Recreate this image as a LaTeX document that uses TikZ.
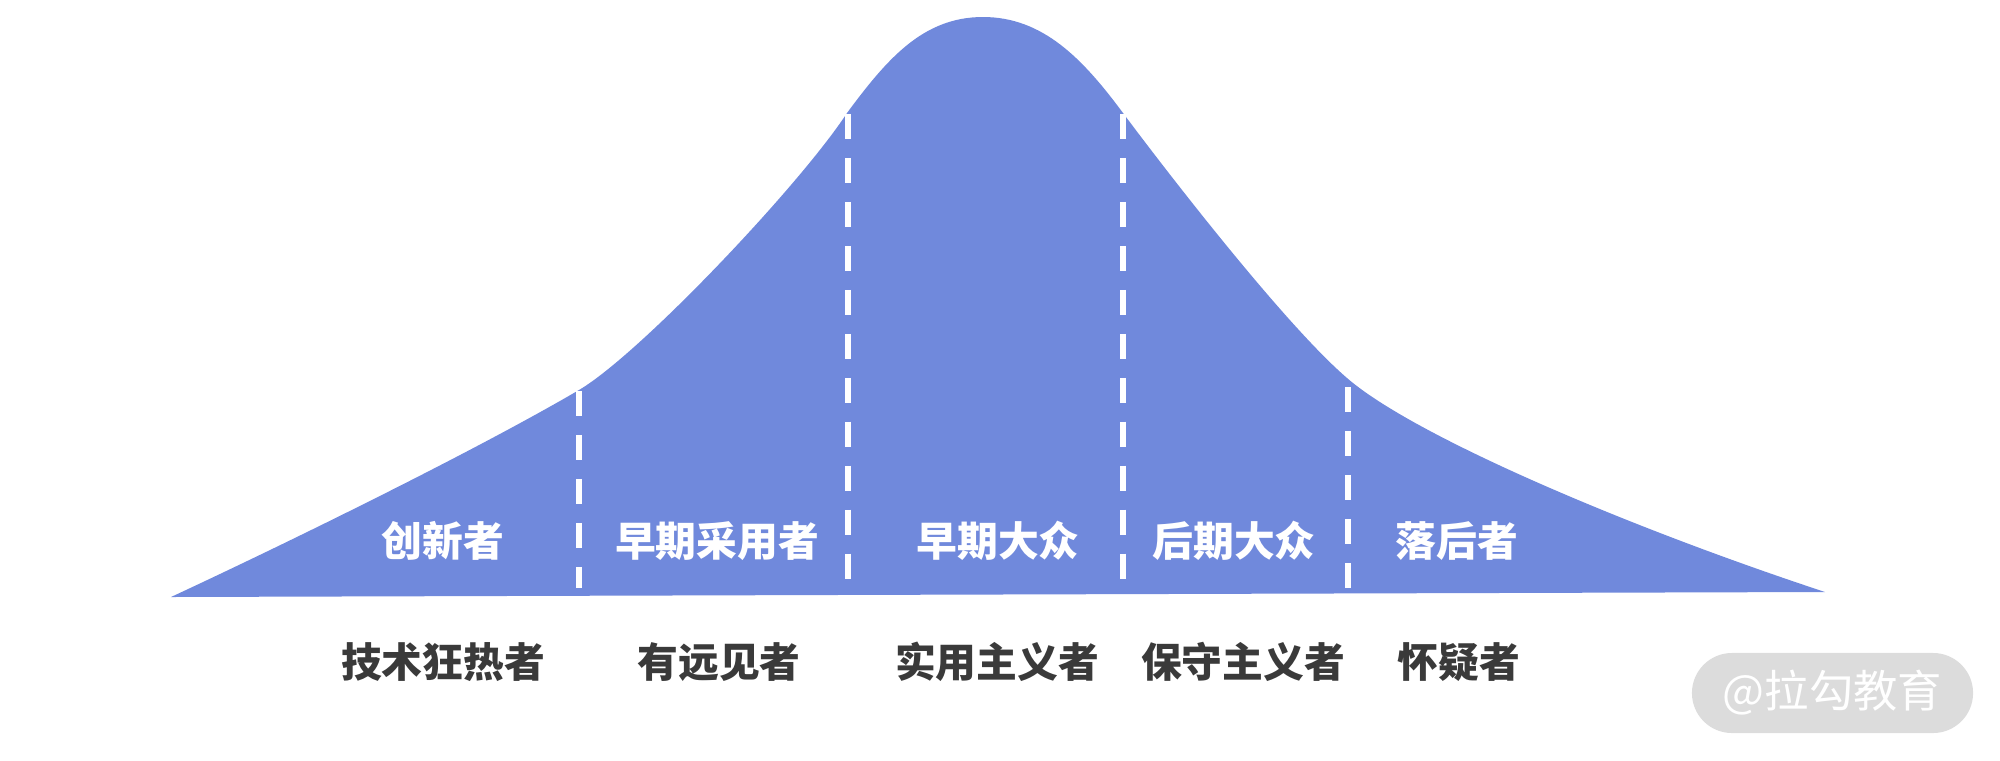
\documentclass[tikz,border=0pt]{standalone}
\usepackage{fontspec}
\newfontfamily\cjk{Noto Sans CJK SC}
\definecolor{bellblue}{RGB}{112,137,220}
\definecolor{darktext}{RGB}{58,58,58}
\definecolor{wmgray}{RGB}{220,220,220}
\tikzset{
  inlabel/.style={text=white, font=\cjk\bfseries\fontsize{11.6pt}{14pt}\selectfont, inner sep=0pt},
  outlabel/.style={text=darktext, font=\cjk\bfseries\fontsize{11.6pt}{14pt}\selectfont, inner sep=0pt},
  divider/.style={draw=white, line width=1.45pt, dash pattern=on 7.1pt off 5.4pt},
  watermark/.style={fill=wmgray, rounded corners=0.4cm, minimum width=2.81cm, minimum height=0.8cm, inner sep=0pt,
    text=white, font=\cjk\fontsize{12.6pt}{15pt}\selectfont},
}
\begin{document}
\begin{tikzpicture}[x=0.01cm, y=-0.01cm]
\useasboundingbox (0,0) rectangle (2000,760);
% bell curve
\fill[bellblue] (171,597)
  .. controls (300,537) and (480,448) .. (579,390)
  .. controls (640,354) and (800,185) .. (847,113)
  .. controls (887,59) and (923,17) .. (983,17)
  .. controls (1043,17) and (1083,59) .. (1123,113)
  .. controls (1170,176) and (1293,335) .. (1353,383)
  .. controls (1423,439) and (1625,526) .. (1825,592)
  -- cycle;
% dividers
\coordinate (d1t) at (579,391); \coordinate (d1b) at (579,588);
\coordinate (d2t) at (848,114); \coordinate (d2b) at (848,590);
\coordinate (d3t) at (1123,114); \coordinate (d3b) at (1123,590);
\coordinate (d4t) at (1348,387); \coordinate (d4b) at (1348,588);
\draw[divider] (d1t) -- (d1b);
\draw[divider] (d2t) -- (d2b);
\draw[divider] (d3t) -- (d3b);
\draw[divider] (d4t) -- (d4b);
% inner labels
\node[inlabel] (i1) at (443,541) {创新者};
\node[inlabel] (i2) at (717,541) {早期采用者};
\node[inlabel] (i3) at (998,541) {早期大众};
\node[inlabel] (i4) at (1234,541) {后期大众};
\node[inlabel] (i5) at (1457,541) {落后者};
% outer labels
\node[outlabel] (o1) at (443,662) {技术狂热者};
\node[outlabel] (o2) at (719,662) {有远见者};
\node[outlabel] (o3) at (997,662) {实用主义者};
\node[outlabel] (o4) at (1243,662) {保守主义者};
\node[outlabel] (o5) at (1459,662) {怀疑者};
% watermark
\node[watermark] (wm) at (1832.5,693) {@拉勾教育};
\end{tikzpicture}
\end{document}
